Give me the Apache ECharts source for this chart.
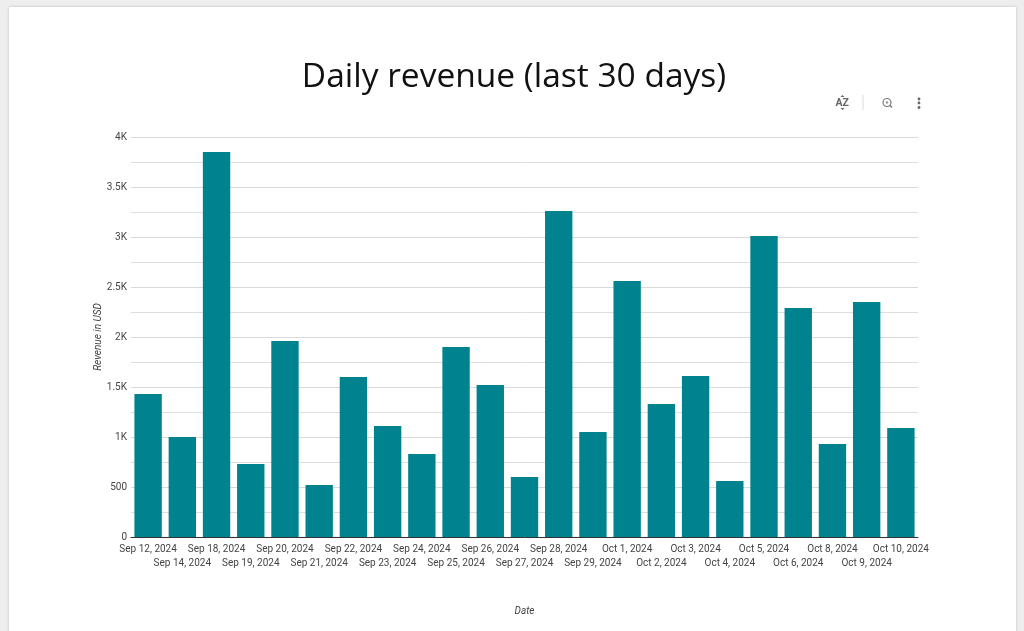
<!DOCTYPE html>
<html>
<head>
<meta charset="UTF-8">
<title>Daily revenue</title>
<script src="https://cdn.jsdelivr.net/npm/echarts@6/dist/echarts.min.js"></script>
<style>
    html, body { margin: 0; padding: 0; width: 1024px; height: 631px; overflow: hidden; background: #eeeeee; }
    #card { position: absolute; left: 9px; top: 7px; width: 1007px; height: 640px; background: #fff; box-shadow: 0 0 3px rgba(0,0,0,0.2); }
    #main { position: absolute; left: 0; top: 0; width: 1024px; height: 631px; }
</style>
</head>
<body>
<div id="card"></div>
<div id="main"></div>
<script>
    // dates on the axis (not continuous, some days are missing)
    var dates = ['Sep 12, 2024','Sep 14, 2024','Sep 18, 2024','Sep 19, 2024','Sep 20, 2024','Sep 21, 2024',
        'Sep 22, 2024','Sep 23, 2024','Sep 24, 2024','Sep 25, 2024','Sep 26, 2024','Sep 27, 2024',
        'Sep 28, 2024','Sep 29, 2024','Oct 1, 2024','Oct 2, 2024','Oct 3, 2024','Oct 4, 2024',
        'Oct 5, 2024','Oct 6, 2024','Oct 8, 2024','Oct 9, 2024','Oct 10, 2024'];
    var revenue = [1430,1000,3850,730,1960,520,1600,1110,830,1900,1520,600,3260,1050,2560,1330,1610,560,3010,2290,930,2350,1090];

    var myChart = echarts.init(document.getElementById('main'), null, {renderer: 'canvas'});

    var option = {
        backgroundColor: 'transparent',
        animation: false,
        title: {
            text: 'Daily revenue (last 30 days)',
            left: 509,
            top: 55,
            textAlign: 'center',
            textStyle: {fontFamily: 'Open Sans', fontSize: 33.5, fontWeight: 'normal', color: '#111'}
        },
        grid: {left: 131, right: 106, top: 137, bottom: 94, containLabel: false},
        xAxis: {
            type: 'category',
            data: dates,
            name: 'Date',
            nameLocation: 'middle',
            nameGap: 69,
            nameMoveOverlap: false,
            nameTextStyle: {fontFamily: 'Roboto', fontSize: 10, fontStyle: 'italic', color: '#444'},
            axisLine: {lineStyle: {color: '#333', width: 1}},
            axisTick: {show: false},
            axisLabel: {
                interval: 0,
                hideOverlap: false,
                margin: 5,
                fontFamily: 'Roboto',
                fontSize: 10,
                lineHeight: 14,
                color: '#444',
                // every second label goes on a lower row
                formatter: function (value, index) {
                    return index % 2 ? '\n' + value : value;
                }
            }
        },
        yAxis: {
            type: 'value',
            min: 0,
            max: 4000,
            interval: 500,
            name: 'Revenue in USD',
            nameLocation: 'middle',
            nameGap: 28,
            nameMoveOverlap: false,
            nameTextStyle: {fontFamily: 'Roboto', fontSize: 10, fontStyle: 'italic', color: '#444'},
            axisLine: {show: false},
            axisTick: {show: false},
            minorTick: {show: false, splitNumber: 2},
            minorSplitLine: {show: true, lineStyle: {color: '#dedede', width: 1}},
            splitLine: {lineStyle: {color: '#d9d9d9', width: 1}},
            axisLabel: {
                margin: 4,
                fontFamily: 'Roboto',
                fontSize: 10,
                color: '#444',
                formatter: function (v) {
                    return v >= 1000 ? (v / 1000) + 'K' : String(v);
                }
            }
        },
        series: [{
            name: 'Revenue',
            type: 'bar',
            data: revenue,
            barWidth: '80%',
            itemStyle: {color: '#00838f'}
        }],
        graphic: [
            // toolbar icons
            {type: 'text', left: 835.5, top: 98, style: {text: 'AZ', font: 'bold 10.5px Roboto', fill: '#666'}},
            {type: 'polygon', shape: {points: [[840.5, 97], [842.5, 95], [844.5, 97]]}, style: {fill: '#666'}},
            {type: 'polygon', shape: {points: [[840.5, 108], [842.5, 110], [844.5, 108]]}, style: {fill: '#666'}},
            {type: 'line', shape: {x1: 863, y1: 95, x2: 863, y2: 110}, style: {stroke: '#dcdcdc', lineWidth: 1}},
            {type: 'circle', shape: {cx: 887, cy: 102.5, r: 4}, style: {fill: 'none', stroke: '#777', lineWidth: 1.2}},
            {type: 'circle', shape: {cx: 887, cy: 102.5, r: 1.3}, style: {fill: '#999'}},
            {type: 'line', shape: {x1: 890, y1: 105.5, x2: 892, y2: 107.5}, style: {stroke: '#777', lineWidth: 1.4}},
            {type: 'circle', shape: {cx: 919, cy: 99, r: 1.4}, style: {fill: '#666'}},
            {type: 'circle', shape: {cx: 919, cy: 103, r: 1.4}, style: {fill: '#666'}},
            {type: 'circle', shape: {cx: 919, cy: 107.5, r: 1.4}, style: {fill: '#666'}}
        ]
    };
    myChart.setOption(option);
</script>
</body>
</html>
